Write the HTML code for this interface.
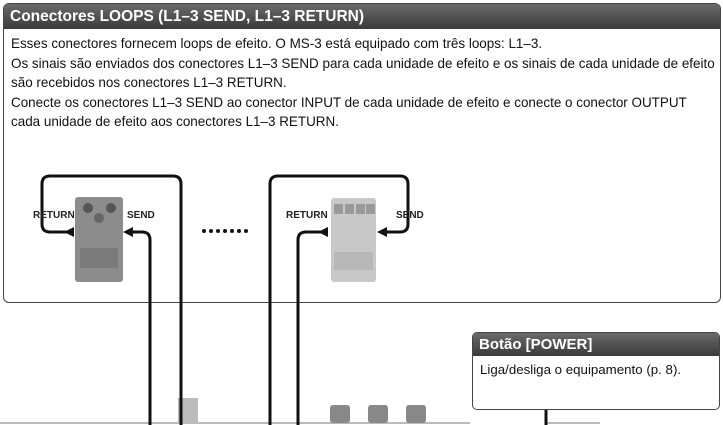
<!DOCTYPE html>
<html><head><meta charset="utf-8"><style>
body{margin:0;width:723px;height:425px;overflow:hidden;background:#fff;font-family:"Liberation Sans",sans-serif;position:relative}
.box{position:absolute;left:3px;top:3px;width:716px;height:298px;border:1.5px solid #444;border-radius:6px;overflow:hidden}
.hd{height:25px;background:linear-gradient(#6a6a6a,#3a3a3a);color:#fff;font-weight:bold;font-size:15.5px;line-height:25px;padding-left:6px}
.tx{font-size:13.45px;line-height:19.5px;padding:5px 0 0 7px;color:#111;white-space:nowrap}
.pw{position:absolute;left:472px;top:332px;width:246px;height:76px;border:1.5px solid #444;border-radius:5px;overflow:hidden;background:#fff}
.pw .hd{height:23px;line-height:23px;font-size:15px}
.pw .tx{padding-top:4px;font-size:13.3px}
.lbl{position:absolute;font-size:10px;font-weight:bold;color:#222}
</style></head><body>
<div class="box"><div class="hd">Conectores LOOPS (L1–3 SEND, L1–3 RETURN)</div>
<div class="tx">Esses conectores fornecem loops de efeito. O MS-3 está equipado com três loops: L1–3.<br>Os sinais são enviados dos conectores L1–3 SEND para cada unidade de efeito e os sinais de cada unidade de efeito<br>são recebidos nos conectores L1–3 RETURN.<br>Conecte os conectores L1–3 SEND ao conector INPUT de cada unidade de efeito e conecte o conector OUTPUT<br>cada unidade de efeito aos conectores L1–3 RETURN.</div></div>
<svg width="723" height="425" style="position:absolute;left:0;top:0">
<line x1="0" y1="423" x2="470" y2="423" stroke="#bbb" stroke-width="2"/>
<line x1="545" y1="423" x2="600" y2="423" stroke="#bbb" stroke-width="2"/>
<rect x="178" y="398" width="20" height="25" fill="#bbb"/>
<g fill="#888"><rect x="330" y="405" width="20" height="18" rx="3"/><rect x="368" y="405" width="20" height="18" rx="3"/><rect x="406" y="405" width="20" height="18" rx="3"/></g>
<rect x="75" y="197" width="48" height="85" rx="3" fill="#8c8c8c"/>
<rect x="80" y="248" width="38" height="20" fill="#7a7a7a"/>
<circle cx="88" cy="208" r="5" fill="#555"/><circle cx="111" cy="208" r="5" fill="#555"/><circle cx="99" cy="218" r="5" fill="#666"/>
<rect x="331" y="198" width="45" height="84" rx="3" fill="#c8c8c8"/>
<rect x="334" y="252" width="39" height="18" fill="#b8b8b8"/>
<g fill="#999"><rect x="334" y="204" width="9" height="10"/><rect x="345" y="204" width="9" height="10"/><rect x="356" y="204" width="9" height="10"/><rect x="366" y="204" width="9" height="10"/></g>
<g fill="none" stroke="#111" stroke-width="3">
<path d="M150 425 V240 Q150 232 142 232 H128"/>
<path d="M181 425 V184 Q181 176 173 176 H50 Q42 176 42 184 V224 Q42 232 50 232 H70"/>
<path d="M270 425 V184 Q270 176 278 176 H400 Q408 176 408 184 V224 Q408 232 400 232 H384"/>
<path d="M298 425 V240 Q298 232 306 232 H326"/>
<line x1="546" y1="409" x2="546" y2="425"/>
</g>
<g fill="#111">
<polygon points="123,232 133,227 133,237"/><polygon points="64,232 74,227 74,237"/>
<polygon points="377,232 387,227 387,237"/><polygon points="318,232 328,227 328,237"/>
<circle cx="204" cy="231" r="2"/><circle cx="211" cy="231" r="2"/><circle cx="218" cy="231" r="2"/><circle cx="225" cy="231" r="2"/><circle cx="232" cy="231" r="2"/><circle cx="239" cy="231" r="2"/><circle cx="246" cy="231" r="2"/>
</g>
</svg>
<div class="lbl" style="left:33px;top:210px">RETURN</div>
<div class="lbl" style="left:127px;top:210px">SEND</div>
<div class="lbl" style="left:286px;top:210px">RETURN</div>
<div class="lbl" style="left:396px;top:210px">SEND</div>
<div class="pw"><div class="hd">Botão [POWER]</div><div class="tx">Liga/desliga o equipamento (p. 8).</div></div>
</body></html>
